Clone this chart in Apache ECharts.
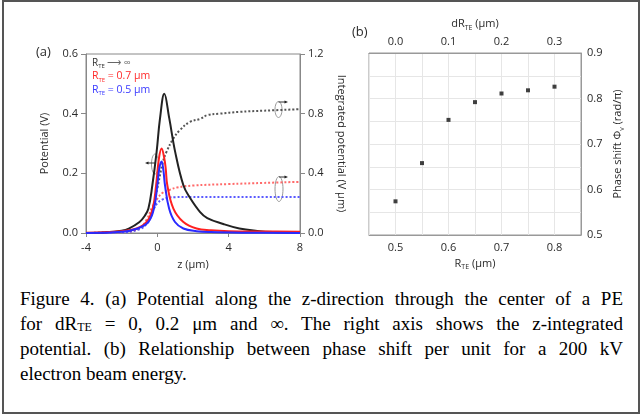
<!DOCTYPE html>
<html>
<head>
<meta charset="utf-8">
<script src="https://cdn.jsdelivr.net/npm/echarts@6/dist/echarts.min.js"></script>
<style>
    html, body { margin: 0; padding: 0; background: #fff; }
    #frame {
        position: absolute; left: 2px; top: 0; width: 634px; height: 410px;
        border: 2px solid #555;
    }
    #chart { position: absolute; left: 0; top: 0; width: 641px; height: 285px; }
    #caption {
        position: absolute; left: 20px; top: 286px; width: 603px;
        font-family: "Liberation Serif", serif; font-size: 19px; line-height: 25px;
        color: #000;
    }
    #caption .j { text-align: justify; text-align-last: justify; }
    #caption .j, #caption .l { height: 25px; }
    #caption sub { font-size: 12px; vertical-align: -1px; }
</style>
</head>
<body>
<div id="frame"></div>
<div id="chart"></div>
<div id="caption">
    <div class="j">Figure 4. (a) Potential along the z-direction through the center of a PE</div>
    <div class="j">for dR<sub>TE</sub> = 0, 0.2 μm and ∞. The right axis shows the z-integrated</div>
    <div class="j">potential. (b) Relationship between phase shift per unit for a 200 kV</div>
    <div class="l">electron beam energy.</div>
</div>
<script>
// (a) 电势曲线 - 读图估计值
var zBlack = [-4, -3, -2, -1.6, -1, -0.7, -0.5, -0.28, -0.04, 0.15, 0.39, 0.67, 1.0, 1.46, 1.83, 2.4, 2.8, 3.7, 4.6, 5.6, 6.5, 8];
var vBlack = [0, 0.002, 0.008, 0.015, 0.037, 0.058, 0.082, 0.16, 0.272, 0.384, 0.467, 0.384, 0.272, 0.16, 0.118, 0.07, 0.05, 0.03, 0.015, 0.007, 0.003, 0.001];
var zRed = [-4, -2, -1.16, -0.6, -0.26, -0.07, 0.09, 0.24, 0.39, 0.47, 0.56, 0.9, 1.46, 2.2, 3, 4, 6, 8];
var vRed = [0.001, 0.006, 0.015, 0.037, 0.082, 0.16, 0.25, 0.283, 0.25, 0.216, 0.16, 0.082, 0.037, 0.015, 0.009, 0.006, 0.005, 0.004];
var zBlue = [-4, -2, -1.1, -0.5, -0.19, 0.0, 0.12, 0.24, 0.34, 0.43, 0.66, 0.99, 1.46, 2.2, 3, 5, 8];
var vBlue = [0, 0.004, 0.015, 0.037, 0.082, 0.16, 0.22, 0.24, 0.21, 0.16, 0.082, 0.037, 0.015, 0.006, 0.003, 0.001, 0];

// (a) 积分电势 (右轴)
var zBlackInt = [-4, -2, -1, -0.5, -0.3, 0, 0.3, 0.5, 0.9, 1.27, 1.83, 2.4, 2.8, 3.5, 4.6, 6, 8];
var iBlack = [0, 0.01, 0.03, 0.08, 0.14, 0.3, 0.47, 0.54, 0.634, 0.69, 0.745, 0.765, 0.79, 0.8, 0.812, 0.82, 0.83];
var zRedInt = [-4, -2, -1, -0.6, -0.3, 0, 0.3, 0.7, 1.1, 2, 4, 6, 8];
var iRed = [0, 0.005, 0.03, 0.09, 0.17, 0.23, 0.27, 0.29, 0.305, 0.318, 0.328, 0.336, 0.343];
var zBlueInt = [-4, -2, -1, -0.6, -0.4, -0.2, 0, 0.3, 0.6, 1, 2, 8];
var iBlue = [0, 0.004, 0.025, 0.06, 0.1, 0.16, 0.2, 0.225, 0.236, 0.24, 0.242, 0.242];

// (b) 相移
var rTE = [0.5, 0.55, 0.6, 0.65, 0.7, 0.75, 0.8];
var phase = [0.574, 0.658, 0.753, 0.792, 0.811, 0.818, 0.826];

var FONT = 'Open Sans';
var TXT = '#2a2a2a';

/**
 * 两个数组拼成 [x, y]
 */
function pairs(xs, ys) {
    var out = [];
    for (var i = 0; i < xs.length; i++) {
        out.push([xs[i], ys[i]]);
    }
    return out;
}

function oneDecimal(v) {
    return v.toFixed(1);
}

// 只在 0.1 的整数倍处显示标签
function tenthOnly(v) {
    var k = Math.round(v * 100);
    return k % 10 === 0 ? (k / 100).toFixed(1) : '';
}

var subRich = {
    a: {fontFamily: FONT, fontSize: 11, color: TXT},
    s: {fontFamily: FONT, fontSize: 7, color: TXT, verticalAlign: 'bottom', lineHeight: 14}
};

function lineSeries(name, xs, ys, color, yIndex, dotted) {
    return {
        name: name,
        type: 'line',
        xAxisIndex: 0,
        yAxisIndex: yIndex,
        data: pairs(xs, ys),
        smooth: 0.4,
        showSymbol: false,
        lineStyle: {color: color, width: 2, type: dotted ? 'dotted' : 'solid'},
        z: dotted ? 2 : 3
    };
}

/**
 * 图 (a) 与 图 (b)
 */
function figure_chart() {
    var myChart = echarts.init(document.getElementById('chart'));
    var axisGray = '#888';
    var option = null;
    option = {
        animation: false,
        textStyle: {fontFamily: FONT},
        grid: [
            {left: 86, top: 54, width: 214, height: 179, show: true, borderColor: axisGray, borderWidth: 1},
            {left: 369, top: 53, width: 212, height: 182, show: true, borderColor: '#999', borderWidth: 1}
        ],
        xAxis: [{
            gridIndex: 0, type: 'value', min: -4, max: 8, interval: 4,
            name: 'z (μm)', nameLocation: 'middle', nameGap: 26,
            nameTextStyle: {fontFamily: FONT, fontSize: 11, color: TXT},
            axisLine: {onZero: false, lineStyle: {color: axisGray}},
            axisTick: {show: true, length: 4, lineStyle: {color: axisGray}},
            axisLabel: {color: TXT, fontSize: 11, margin: 9},
            splitLine: {show: false}
        }, {
            gridIndex: 1, type: 'value', min: 0.45, max: 0.85, interval: 0.05,
            name: '{a|R}{s|TE}{a| (μm)}', nameLocation: 'middle', nameGap: 17,
            nameTextStyle: {rich: subRich},
            axisLine: {onZero: false, lineStyle: {color: '#999'}},
            axisTick: {show: false},
            axisLabel: {color: TXT, fontSize: 11, margin: 7, formatter: tenthOnly},
            splitLine: {show: true, lineStyle: {color: '#e6e6e6'}}
        }, {
            gridIndex: 1, type: 'value', position: 'top', min: -0.05, max: 0.35, interval: 0.05,
            name: '{a|dR}{s|TE}{a| (μm)}', nameLocation: 'middle', nameGap: 21,
            nameTextStyle: {rich: subRich},
            axisLine: {onZero: false, lineStyle: {color: '#999'}},
            axisTick: {show: false},
            axisLabel: {color: TXT, fontSize: 11, margin: 6, formatter: tenthOnly},
            splitLine: {show: false}
        }],
        yAxis: [{
            gridIndex: 0, type: 'value', min: 0, max: 0.6, interval: 0.2,
            name: 'Potential (V)', nameLocation: 'middle', nameGap: 36, nameRotate: 90,
            nameTextStyle: {fontFamily: FONT, fontSize: 11, color: TXT},
            axisLine: {show: true, onZero: false, lineStyle: {color: axisGray}},
            axisTick: {show: true, length: 5, lineStyle: {color: axisGray}},
            axisLabel: {color: TXT, fontSize: 11, margin: 8, formatter: oneDecimal},
            splitLine: {show: false}
        }, {
            gridIndex: 0, type: 'value', position: 'right', min: 0, max: 1.2, interval: 0.4,
            name: 'Integrated potential (V μm)', nameLocation: 'middle', nameGap: 36, nameRotate: -90,
            nameTextStyle: {fontFamily: FONT, fontSize: 11, color: TXT},
            axisLine: {show: true, onZero: false, lineStyle: {color: axisGray}},
            axisTick: {show: true, length: 5, lineStyle: {color: axisGray}},
            axisLabel: {color: TXT, fontSize: 11, margin: 8, formatter: oneDecimal},
            splitLine: {show: false}
        }, {
            gridIndex: 1, type: 'value', position: 'right', min: 0.5, max: 0.9, interval: 0.05,
            name: '{a|Phase shift Φ}{s|v}{a| (rad/π)}', nameLocation: 'middle', nameGap: 30, nameRotate: 90,
            nameTextStyle: {rich: subRich},
            axisLine: {show: true, onZero: false, lineStyle: {color: '#999'}},
            axisTick: {show: false},
            axisLabel: {color: TXT, fontSize: 11, margin: 6, formatter: tenthOnly},
            splitLine: {show: true, lineStyle: {color: '#e6e6e6'}}
        }],
        series: [
            lineSeries('int_inf', zBlackInt, iBlack, '#555', 1, true),
            lineSeries('int_07', zRedInt, iRed, '#ff6a6a', 1, true),
            lineSeries('int_05', zBlueInt, iBlue, '#5a5aff', 1, true),
            lineSeries('v_inf', zBlack, vBlack, '#222', 0, false),
            lineSeries('v_07', zRed, vRed, '#ff2020', 0, false),
            lineSeries('v_05', zBlue, vBlue, '#2a2aff', 0, false),
            {
                name: 'phase', type: 'scatter', xAxisIndex: 1, yAxisIndex: 2,
                data: pairs(rTE, phase), symbol: 'rect', symbolSize: 4,
                itemStyle: {color: '#111'}
            }
        ],
        graphic: [
            {type: 'text', left: 36, top: 46, style: {text: '(a)', font: '13px ' + FONT, fill: TXT}},
            {type: 'text', left: 352, top: 26, style: {text: '(b)', font: '13px ' + FONT, fill: TXT}},
            {
                type: 'text', left: 92, top: 58,
                style: {
                    text: '{k|R}{ks|TE}{g| ⟶ ∞}\n{r|R}{rs|TE}{r| = 0.7 μm}\n{b|R}{bs|TE}{b| = 0.5 μm}',
                    rich: {
                        k: {fontFamily: FONT, fontSize: 10, fill: '#333', lineHeight: 13.5},
                        g: {fontFamily: FONT, fontSize: 10, fill: '#666', lineHeight: 13.5},
                        ks: {fontFamily: FONT, fontSize: 6, fill: '#333', verticalAlign: 'bottom', lineHeight: 13.5},
                        r: {fontFamily: FONT, fontSize: 10.5, fill: '#ff2a2a', lineHeight: 13.5},
                        rs: {fontFamily: FONT, fontSize: 6, fill: '#ff2a2a', verticalAlign: 'bottom', lineHeight: 13.5},
                        b: {fontFamily: FONT, fontSize: 10.5, fill: '#3a3aff', lineHeight: 13.5},
                        bs: {fontFamily: FONT, fontSize: 6, fill: '#3a3aff', verticalAlign: 'bottom', lineHeight: 13.5}
                    }
                }
            },
            // 标注椭圆与箭头
            {type: 'ellipse', shape: {cx: 155, cy: 164, rx: 3.5, ry: 10}, style: {fill: 'none', stroke: '#999', lineWidth: 1}},
            {type: 'line', shape: {x1: 155, y1: 163, x2: 148, y2: 163}, style: {stroke: '#333', lineWidth: 1}},
            {type: 'polygon', shape: {points: [[145, 163], [148.5, 161.5], [148.5, 164.5]]}, style: {fill: '#222'}},
            {type: 'ellipse', shape: {cx: 278.5, cy: 109.5, rx: 3.5, ry: 8}, style: {fill: 'none', stroke: '#999', lineWidth: 1}},
            {type: 'line', shape: {x1: 278.5, y1: 102, x2: 285, y2: 102}, style: {stroke: '#333', lineWidth: 1}},
            {type: 'polygon', shape: {points: [[288, 102], [284.5, 100.5], [284.5, 103.5]]}, style: {fill: '#222'}},
            {type: 'ellipse', shape: {cx: 279, cy: 189, rx: 4, ry: 12.5}, style: {fill: 'none', stroke: '#999', lineWidth: 1}},
            {type: 'line', shape: {x1: 279, y1: 177, x2: 285, y2: 177}, style: {stroke: '#333', lineWidth: 1}},
            {type: 'polygon', shape: {points: [[288, 177], [284.5, 175.5], [284.5, 178.5]]}, style: {fill: '#222'}}
        ]
    };
    if (option && typeof option === "object") {
        myChart.setOption(option, true);
    }
}

figure_chart();
</script>
</body>
</html>
